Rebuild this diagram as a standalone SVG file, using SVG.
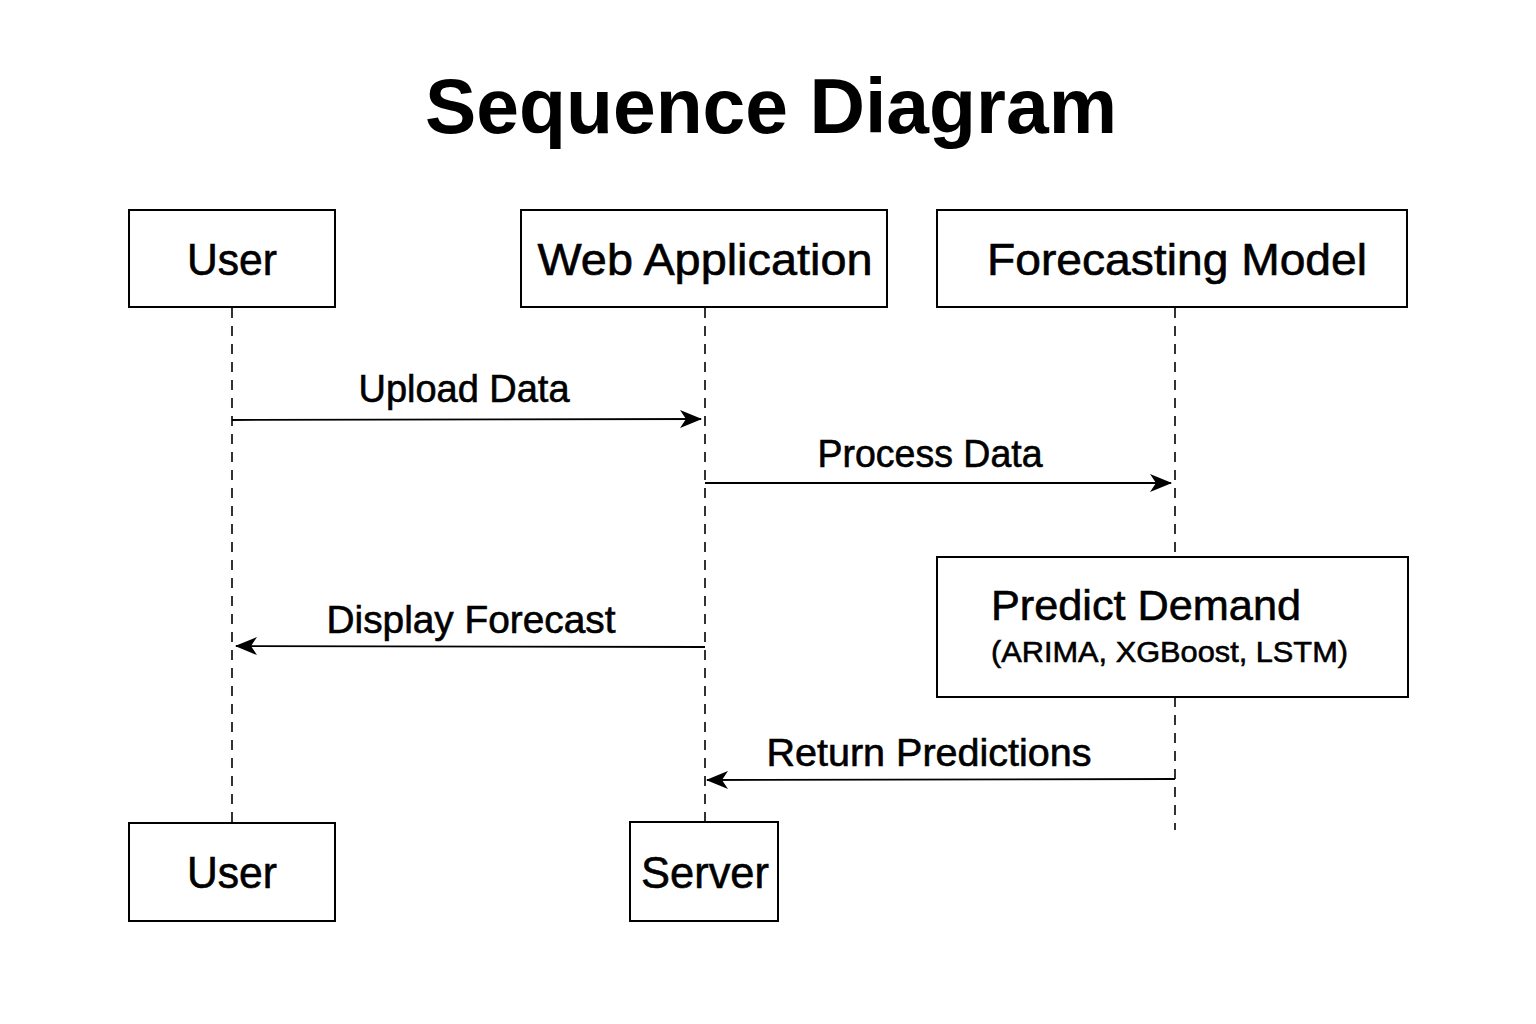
<svg xmlns="http://www.w3.org/2000/svg" width="1536" height="1024" viewBox="0 0 1536 1024">
<defs>
<style>
text{font-family:"Liberation Sans",Arial,sans-serif;fill:#000;stroke:#000;stroke-width:0.6}
.title{stroke:none}
.box{fill:#fff;stroke:#000;stroke-width:2}
.life{stroke:#000;stroke-width:1.6;stroke-dasharray:10,8;fill:none}
.msg{stroke:#000;stroke-width:1.8;fill:none;marker-end:url(#arr)}
.lbl{font-size:38px;text-anchor:middle}
.name{font-size:44px;text-anchor:middle}
</style>
<marker id="arr" viewBox="0 0 22 18" refX="21" refY="9" markerWidth="22" markerHeight="18" markerUnits="userSpaceOnUse" orient="auto">
<path d="M0,0 L22,9 L0,18 L6,9 Z" fill="#000"/>
</marker>
</defs>
<rect width="1536" height="1024" fill="#fff"/>
<text class="title" x="771" y="133" font-size="78" font-weight="bold" text-anchor="middle" textLength="692" lengthAdjust="spacingAndGlyphs">Sequence Diagram</text>

<g id="lifelines">
<line class="life" x1="232" y1="308" x2="232" y2="822"/>
<line class="life" x1="705" y1="308" x2="705" y2="822"/>
<line class="life" x1="1175" y1="308" x2="1175" y2="557"/>
<line class="life" x1="1175" y1="697" x2="1175" y2="830"/>
</g>

<g id="user-top"><rect class="box" x="129" y="210" width="206" height="97"/><text class="name" x="232" y="275" textLength="90" lengthAdjust="spacingAndGlyphs">User</text></g>
<g id="webapp"><rect class="box" x="521" y="210" width="366" height="97"/><text class="name" x="705" y="275" textLength="335" lengthAdjust="spacingAndGlyphs">Web Application</text></g>
<g id="model"><rect class="box" x="937" y="210" width="470" height="97"/><text class="name" x="1177" y="275" textLength="380" lengthAdjust="spacingAndGlyphs">Forecasting Model</text></g>
<g id="predict"><rect class="box" x="937" y="557" width="471" height="140"/>
<text x="991" y="620" font-size="43" textLength="310" lengthAdjust="spacingAndGlyphs">Predict Demand</text>
<text x="991" y="662" font-size="30" textLength="357" lengthAdjust="spacingAndGlyphs">(ARIMA, XGBoost, LSTM)</text></g>
<g id="user-bottom"><rect class="box" x="129" y="823" width="206" height="98"/><text class="name" x="232" y="888" textLength="90" lengthAdjust="spacingAndGlyphs">User</text></g>
<g id="server"><rect class="box" x="630" y="822" width="148" height="99"/><text class="name" x="705" y="888" textLength="128" lengthAdjust="spacingAndGlyphs">Server</text></g>

<g id="connectors">
<line class="msg" x1="232" y1="420" x2="701" y2="419"/>
<line class="msg" x1="705" y1="483" x2="1171" y2="483"/>
<line class="msg" x1="705" y1="647" x2="236" y2="646"/>
<line class="msg" x1="1175" y1="779" x2="707" y2="780"/>
</g>
<g id="labels">
<text class="lbl" x="464" y="402" textLength="211" lengthAdjust="spacingAndGlyphs">Upload Data</text>
<text class="lbl" x="930" y="467" textLength="225" lengthAdjust="spacingAndGlyphs">Process Data</text>
<text class="lbl" x="471" y="633" textLength="289" lengthAdjust="spacingAndGlyphs">Display Forecast</text>
<text class="lbl" x="929" y="766" textLength="325" lengthAdjust="spacingAndGlyphs">Return Predictions</text>
</g>
</svg>
